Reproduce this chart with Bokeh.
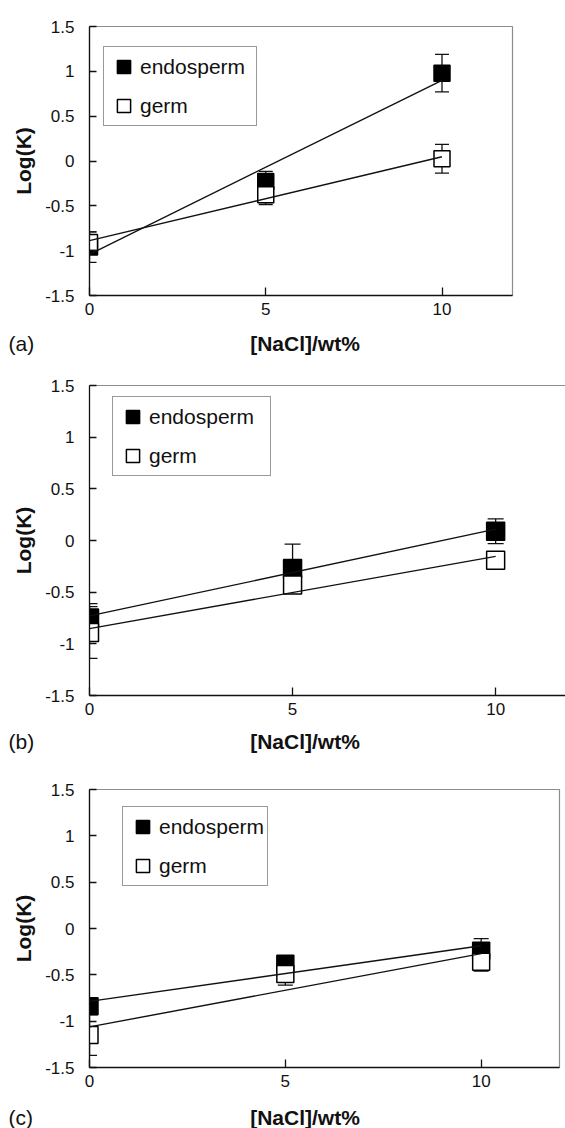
import numpy as np
from bokeh.plotting import figure
from bokeh.layouts import column
from bokeh.core.properties import value
from bokeh.models import (ColumnDataSource, Whisker, TeeHead, FixedTicker, Legend,
                          LegendItem, LinearAxis, CustomJSTickFormatter, Range1d)
from bokeh.embed import file_html
from bokeh.resources import INLINE

# NaCl concentration (wt%) and log partition coefficients with error bars
nacl = [0, 5, 10]
x_ticks = [0, 5, 10]
y_ticks = [-1.5, -1, -0.5, 0, 0.5, 1, 1.5]

a_endo = [-0.96, -0.23, 0.98]
a_endo_err = [0.17, 0.115, 0.21]
a_germ = [-0.91, -0.375, 0.025]
a_germ_err = [0.12, 0.11, 0.16]

b_endo = [-0.75, -0.27, 0.09]
b_endo_err = [0.14, 0.235, 0.12]
b_germ = [-0.89, -0.43, -0.19]
b_germ_err = [0.25, 0.05, 0.03]

c_endo = [-0.84, -0.38, -0.24]
c_endo_err = [0.08, 0.05, 0.13]
c_germ = [-1.15, -0.49, -0.36]
c_germ_err = [0.22, 0.12, 0.10]

x_title = "[NaCl]/wt%"
y_title = "Log(K)"
series_names = ["endosperm", "germ"]

FONT = "Liberation Sans"
INK = "#111111"
FRAME_GREY = "#8c8c8c"
WIDTH = 565
LEFT = 89


def series_source(ys, errs):
    y = np.array(ys)
    e = np.array(errs)
    return ColumnDataSource(dict(x=nacl, y=ys, upper=list(y + e), lower=list(y - e)))


def panel(endo, endo_err, germ, germ_err, x_end, height, border_top,
          border_bottom, border_right, msize, head, legend_xy, legend_lw,
          open_right=False):
    p = figure(width=WIDTH, height=height, output_backend="svg", toolbar_location=None,
               x_range=Range1d(0, x_end), y_range=Range1d(y_ticks[0], y_ticks[-1]),
               min_border_left=LEFT, min_border_right=border_right,
               min_border_top=border_top, min_border_bottom=border_bottom,
               frame_align=False,
               background_fill_color="white", border_fill_color="white")
    p.grid.visible = False

    xa = p.below[0]
    xa.ticker = FixedTicker(ticks=x_ticks)
    xa.formatter = CustomJSTickFormatter(code="return tick.toString()")
    xa.major_tick_in = 8
    xa.major_tick_out = 0
    xa.minor_tick_line_color = None
    xa.major_label_standoff = 7
    ya = p.left[0]
    ya.ticker = FixedTicker(ticks=y_ticks)
    ya.formatter = CustomJSTickFormatter(code="return tick.toString()")
    ya.major_tick_in = 7
    ya.major_tick_out = 0
    ya.minor_tick_line_color = None
    ya.major_label_standoff = 15
    ya.axis_label = y_title
    ya.axis_label_standoff = 7
    ya.axis_label_text_font = FONT
    ya.axis_label_text_font_style = "bold"
    ya.axis_label_text_font_size = "21px"
    ya.axis_label_text_color = INK
    for ax in (xa, ya):
        ax.axis_line_color = INK
        ax.axis_line_width = 1.3
        ax.major_tick_line_color = INK
        ax.major_tick_line_width = 1.3
        ax.major_label_text_font = FONT
        ax.major_label_text_font_size = "17px"
        ax.major_label_text_color = INK

    if open_right:
        # frame runs off the right edge: only a top rule, no right border
        p.outline_line_color = None
        top = LinearAxis(ticker=FixedTicker(ticks=[]), major_label_text_font_size="0px",
                         major_tick_line_color=None, minor_tick_line_color=None,
                         axis_line_color=FRAME_GREY, axis_line_width=1.2)
        p.add_layout(top, "above")
    else:
        p.outline_line_color = FRAME_GREY
        p.outline_line_width = 1.2

    src_e = series_source(endo, endo_err)
    src_g = series_source(germ, germ_err)
    for src in (src_e, src_g):
        p.add_layout(Whisker(base="x", upper="upper", lower="lower", source=src,
                             line_color=INK, line_width=1.3,
                             upper_head=TeeHead(size=head, line_color=INK, line_width=1.3),
                             lower_head=TeeHead(size=head, line_color=INK, line_width=1.3)))

    r_e = p.scatter("x", "y", source=src_e, marker="square", size=msize,
                    fill_color="black", line_color="black", line_width=1.5)
    r_g = p.scatter("x", "y", source=src_g, marker="square", size=msize,
                    fill_color="white", line_color="black", line_width=1.5)

    # least-squares trend lines over the measured concentration span
    fit_x = np.array([nacl[0], nacl[-1]], dtype=float)
    for ys in (endo, germ):
        k, b0 = np.polyfit(nacl, ys, 1)
        p.line(fit_x, k * fit_x + b0, line_color=INK, line_width=1.4)

    legend = Legend(items=[LegendItem(label=series_names[0], renderers=[r_e]),
                           LegendItem(label=series_names[1], renderers=[r_g])],
                    location=legend_xy, margin=0, padding=3, spacing=6,
                    glyph_width=33, glyph_height=33, label_standoff=0,
                    label_width=legend_lw, label_height=24,
                    label_text_font=FONT, label_text_font_size="21px",
                    label_text_color=INK, border_line_color="#333333",
                    border_line_width=1.1, background_fill_color="white",
                    background_fill_alpha=1.0)
    p.add_layout(legend)
    return p


def caption(tag, height, cy):
    # strip under a panel holding the panel letter and the x-axis title
    c = figure(width=WIDTH, height=height, output_backend="svg", toolbar_location=None,
               x_range=Range1d(0, WIDTH), y_range=Range1d(height, 0),
               x_axis_type=None, y_axis_type=None, min_border=0, frame_align=False,
               background_fill_color="white", border_fill_color="white")
    c.outline_line_color = None
    c.grid.visible = False
    c.text(x=[8], y=[cy], text=[tag], text_font=value(FONT), text_font_size="21px",
           text_color=INK, text_align="left", text_baseline="middle")
    c.text(x=[304.5], y=[cy], text=[x_title], text_font=value(FONT),
           text_font_style="bold", text_font_size="21px", text_color=INK,
           text_align="center", text_baseline="middle")
    return c


pa = panel(a_endo, a_endo_err, a_germ, a_germ_err, 12, 328, 26, 33, 53,
           16, 14, (14, 169), 113)
ca = caption("(a)", 34, 15)
pb = panel(b_endo, b_endo_err, b_germ, b_germ_err, 11.72, 366, 23, 33, 0,
           18, 16, (23, 219), 118, open_right=True)
cb = caption("(b)", 37, 13)
pc = panel(c_endo, c_endo_err, c_germ, c_germ_err, 12, 332, 24, 30, 6,
           17, 15, (33, 181), 101)
cc = caption("(c)", 31, 20)

layout = column(pa, ca, pb, cb, pc, cc, spacing=0)
open("out.html", "w").write(file_html(layout, INLINE))
